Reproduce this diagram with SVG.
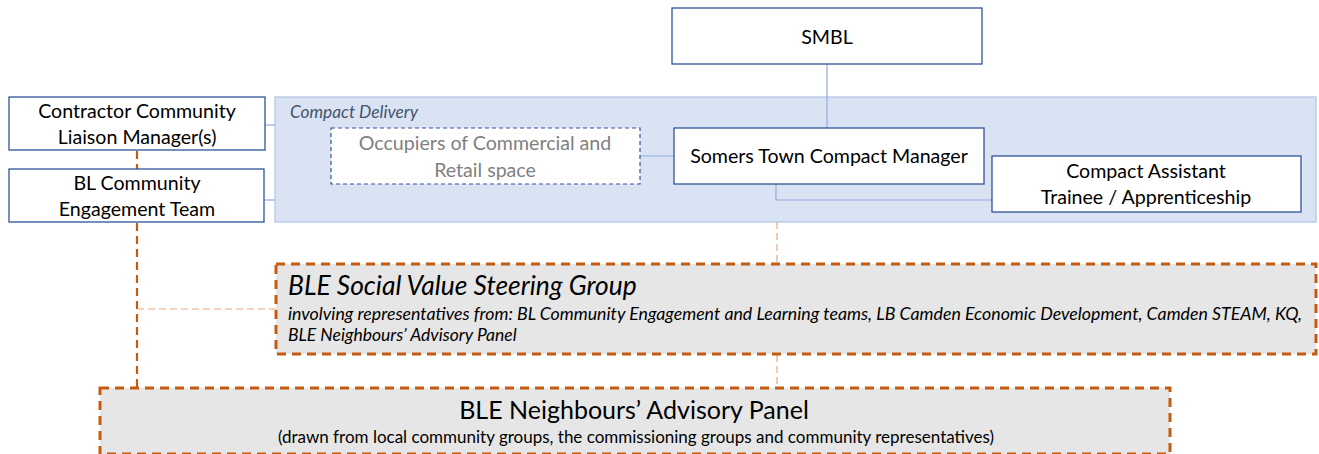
<svg xmlns="http://www.w3.org/2000/svg" width="1319" height="454" viewBox="0 0 1319 454">
  <style>
    text { font-family: Lato, "Noto Sans", "Liberation Sans", sans-serif; fill: #000; }
    .box { fill: #fff; stroke: #2f5597; stroke-width: 1.3; }
    .lbl { font-size: 19.6px; text-anchor: middle; }
    .blue-line { stroke: #8faadc; stroke-width: 1.2; fill: none; }
    .org-thick { stroke: #c55a11; stroke-width: 2.2; stroke-dasharray: 8 5; fill: none; }
    .org-thin { stroke: #e8a77f; stroke-width: 1.2; stroke-dasharray: 7 4; fill: none; }
    .panel { fill: #e7e6e6; stroke: #c55a11; stroke-width: 3; stroke-dasharray: 9 6; }
    .it { font-style: italic; }
  </style>

  <!-- Compact Delivery area -->
  <g id="compact-delivery">
    <rect x="275" y="97" width="1041" height="125" fill="#dae3f3" stroke="#b4c7e7" stroke-width="1.3"/>
    <text x="290" y="118" class="it" font-size="17.3" style="fill:#44546a">Compact Delivery</text>
  </g>

  <!-- Connectors -->
  <g id="connectors">
    <!-- blue solid links -->
    <path class="blue-line" d="M827 64 V128"/>
    <path class="blue-line" d="M640 156 H674"/>
    <path class="blue-line" d="M776 184 V200 H992"/>
    <path class="blue-line" d="M265 125 H275"/>
    <path class="blue-line" d="M264 200 H275"/>
    <!-- orange dashed links -->
    <path class="org-thick" d="M137 151 V169"/>
    <path class="org-thick" d="M137 223 V388"/>
    <path class="org-thin" d="M137 309 H276"/>
    <path class="org-thin" d="M777 222 V264"/>
    <path class="org-thin" d="M777 355 V388"/>
  </g>

  <g id="smbl">
    <rect class="box" x="672" y="8" width="310" height="56"/>
    <text class="lbl" x="827" y="44">SMBL</text>
  </g>

  <g id="contractor-liaison">
    <rect class="box" x="9" y="97" width="256" height="53"/>
    <text class="lbl" x="137" y="118">Contractor Community</text>
    <text class="lbl" x="137" y="144">Liaison Manager(s)</text>
  </g>

  <g id="bl-engagement">
    <rect class="box" x="9" y="169" width="255" height="53"/>
    <text class="lbl" x="137" y="190">BL Community</text>
    <text class="lbl" x="137" y="216">Engagement Team</text>
  </g>

  <g id="occupiers">
    <rect x="331" y="128" width="309" height="56" fill="#fff" stroke="#2f5597" stroke-width="1.2" stroke-dasharray="4 3"/>
    <text class="lbl" x="485" y="150" style="fill:#808080">Occupiers of Commercial and</text>
    <text class="lbl" x="485" y="177" style="fill:#808080">Retail space</text>
  </g>

  <g id="compact-manager">
    <rect class="box" x="674" y="128" width="310" height="56"/>
    <text class="lbl" x="829" y="163">Somers Town Compact Manager</text>
  </g>

  <g id="compact-assistant">
    <rect class="box" x="992" y="156" width="309" height="56"/>
    <text class="lbl" x="1146" y="178">Compact Assistant</text>
    <text class="lbl" x="1146" y="204">Trainee / Apprenticeship</text>
  </g>

  <g id="steering-group">
    <rect class="panel" x="276" y="264" width="1040" height="90"/>
    <text class="it" x="288" y="295" font-size="26.4">BLE Social Value Steering Group</text>
    <text class="it" x="288" y="320" font-size="17.5" textLength="1014" lengthAdjust="spacingAndGlyphs">involving representatives from: BL Community Engagement and Learning teams, LB Camden Economic Development, Camden STEAM, KQ,</text>
    <text class="it" x="288" y="341" font-size="17.5">BLE Neighbours’ Advisory Panel</text>
  </g>

  <g id="neighbours-panel">
    <rect class="panel" x="100" y="388" width="1070" height="66"/>
    <text x="634" y="419" font-size="25" text-anchor="middle">BLE Neighbours’ Advisory Panel</text>
    <text x="636" y="443" font-size="17" text-anchor="middle">(drawn from local community groups, the commissioning groups and community representatives)</text>
  </g>
</svg>
